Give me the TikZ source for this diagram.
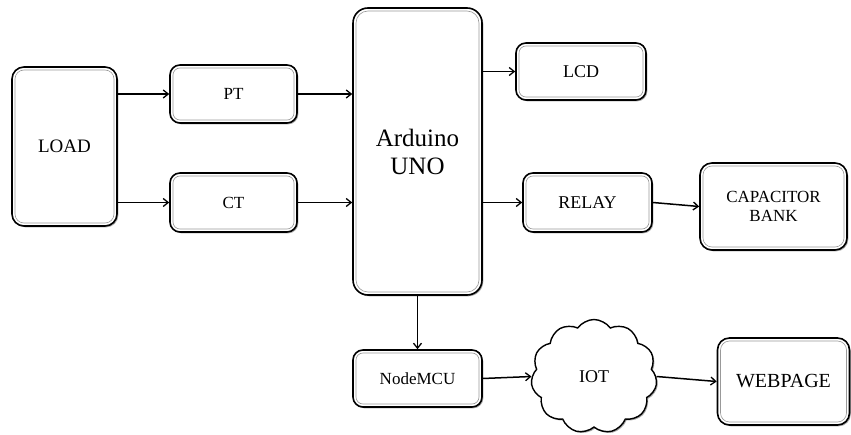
\documentclass[tikz,border=0pt]{standalone}
\usepackage{fontspec}
\setmainfont{Liberation Serif}
\usetikzlibrary{arrows.meta,shapes.symbols,shadows}
\tikzset{
  blk/.style={draw=black, fill=white, line width=1.6pt, rounded corners=#1,
    inner sep=0pt, align=center,
    drop shadow={shadow xshift=1.3pt, shadow yshift=-1.3pt, fill=black!50, opacity=0.7},
    path picture={\draw[black!40, line width=0.6pt, rounded corners=#1-3pt]
      ([shift={(3pt,3pt)}]path picture bounding box.south west) rectangle
      ([shift={(-3pt,-3pt)}]path picture bounding box.north east);}},
  blk/.default=10pt,
  conn/.style={line width=1.5pt, -{Straight Barb[length=5pt,width=8pt,line width=1.3pt]}},
  fs/.style={font=\fontsize{#1}{#1}\selectfont}
}
\begin{document}
\begin{tikzpicture}[x=1pt,y=-1pt]
\useasboundingbox (0,0) rectangle (851,435);
\node[blk=12pt, minimum width=105pt, minimum height=159pt, fs=19] (load) at (64.5,146.5) {LOAD};
\node[blk, minimum width=127pt, minimum height=58pt, fs=17] (pt) at (233.5,94) {PT};
\node[blk, minimum width=127pt, minimum height=59pt, fs=17] (ct) at (233.5,202.5) {CT};
\node[blk=15pt, minimum width=129pt, minimum height=287pt, fs=25] (ard) at (417.5,151.5) {Arduino\\[3pt]UNO};
\node[blk, minimum width=130pt, minimum height=57pt, fs=18] (lcd) at (581,71.5) {LCD};
\node[blk, minimum width=129pt, minimum height=59pt, fs=18] (relay) at (587.5,202.5) {RELAY};
\node[blk=12pt, minimum width=147pt, minimum height=87pt, fs=17] (cap) at (773.5,206.5) {CAPACITOR\\[2pt]BANK};
\node[blk, minimum width=129pt, minimum height=57pt, fs=17] (nmcu) at (417.5,378.5) {NodeMCU};
\node[cloud, cloud puffs=11, cloud puff arc=110, aspect=1.1, draw=black, fill=white, line width=1.4pt,
  minimum width=126pt, minimum height=114pt, inner sep=0pt, fs=18,
  drop shadow={shadow xshift=1.3pt, shadow yshift=-1.3pt, fill=black!50, opacity=0.7}] (iot) at (594,376.5) {IOT};
\node[blk=12pt, minimum width=132pt, minimum height=87pt, fs=20] (web) at (783.5,381.5) {WEBPAGE};

\draw[conn] (load.east |- pt.west) -- (pt.west);
\draw[conn] (load.east |- ct.west) -- (ct.west);
\draw[conn] (pt.east) -- (pt.east -| ard.west);
\draw[conn] (ct.east) -- (ct.east -| ard.west);
\draw[conn] (lcd.west -| ard.east) -- (lcd.west);
\draw[conn] (relay.west -| ard.east) -- (relay.west);
\draw[conn] (relay.east) -- (cap.west);
\draw[conn] (ard.south) -- (nmcu.north);
\draw[conn] (nmcu.east) -- (iot.west);
\draw[conn] (iot.east) -- (web.west);
\end{tikzpicture}
\end{document}
